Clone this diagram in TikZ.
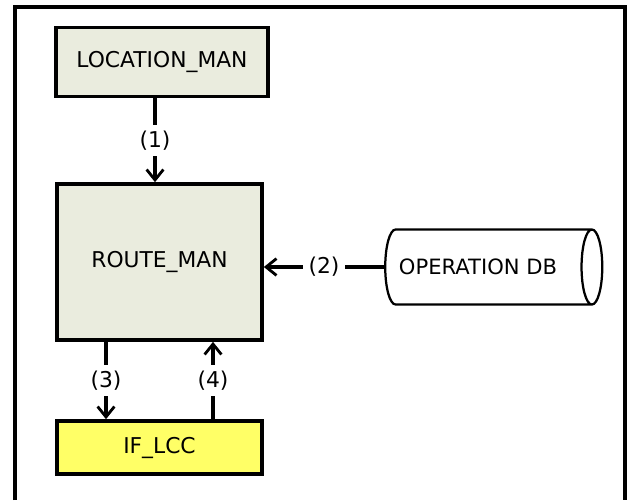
\documentclass[tikz,border=0pt]{standalone}
\usepackage{fontspec}
\setmainfont{DejaVu Sans}
\usetikzlibrary{shapes.geometric,calc,arrows.meta}
\definecolor{boxgreen}{RGB}{234,236,222}
\definecolor{boxyellow}{RGB}{255,255,102}
\tikzset{
modbox/.style={draw=black,line width=2.6pt,fill=boxgreen,inner sep=0pt,font=\fontsize{15.5}{18}\selectfont},
ifbox/.style={modbox,fill=boxyellow},
dbcyl/.style={cylinder,draw=black,line width=1.6pt,aspect=1.3,inner sep=0pt,font=\fontsize{15}{18}\selectfont},
flowarrow/.style={-{Straight Barb[length=2.6mm,width=4.2mm,line width=2pt]},line width=2.6pt},
steplabel/.style={fill=white,inner sep=4pt,font=\fontsize{15.5}{18}\selectfont}
}
\begin{document}
\begin{tikzpicture}[x=0.025cm,y=-0.025cm]
\useasboundingbox (0,0) rectangle (629,500);
% outer frame, open at the bottom
\draw[line width=3pt] (15,500) -- (15,7) -- (625,7) -- (625,500);
\node[modbox,minimum width=5.3cm,minimum height=1.725cm] (loc) at (162,62) {LOCATION\_MAN};
\node[modbox,minimum width=5.125cm,minimum height=3.9cm] (route) at (159.5,262) {ROUTE\_MAN};
\node[ifbox,minimum width=5.125cm,minimum height=1.325cm] (iflcc) at (159.5,447.5) {IF\_LCC};
\node[dbcyl,minimum height=5.425cm,minimum width=1.875cm] (db) at (488,267) {OPERATION DB\rule{0.5cm}{0pt}};
\draw[flowarrow] (loc.south -| 155,0) -- node[steplabel] {(1)} (route.north -| 155,0);
\draw[flowarrow] (db.west) -- node[steplabel] {(2)} (route.east |- db.west);
\draw[flowarrow] ($(route.south)+(-53.5,0)$) -- node[steplabel] {(3)} ($(iflcc.north)+(-53.5,0)$);
\draw[flowarrow] ($(iflcc.north)+(53.5,0)$) -- node[steplabel] {(4)} ($(route.south)+(53.5,0)$);
\end{tikzpicture}
\end{document}
